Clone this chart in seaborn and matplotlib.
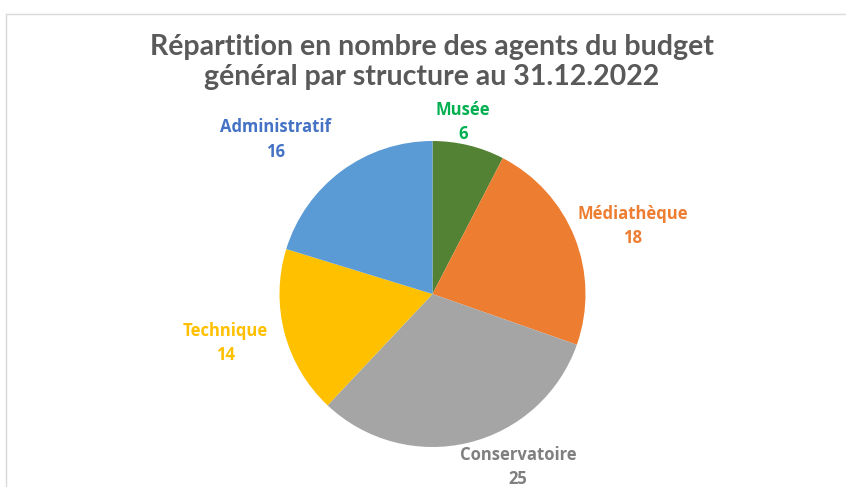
import numpy as np
import matplotlib
matplotlib.use("Agg")
import matplotlib.pyplot as plt
import seaborn as sns
from matplotlib.lines import Line2D

categories = ["Musée", "Médiathèque", "Conservatoire", "Technique", "Administratif"]
values = [6, 18, 25, 14, 16]
colors = ["#548235", "#ED7D31", "#A5A5A5", "#FFC000", "#5B9BD5"]
label_colors = ["#00B050", "#ED7D31", "#7F7F7F", "#FFC000", "#4472C4"]
title = "Répartition en nombre des agents du budget\ngénéral par structure au 31.12.2022"

# styling: label radial distance factors and angle tweaks (deg)
label_dist = [1.14, 1.38, 1.26, 1.39, 1.44]
label_dang = [-3.7, 2.8, -12.6, 1.4, -9]

sns.set_theme(style="white")
plt.rcParams['font.family'] = ['Open Sans', 'DejaVu Sans']

W, H = 846, 487
fig = plt.figure(figsize=(W / 100, H / 100), dpi=100)
ax = fig.add_axes([0, 0, 1, 1])

cx, cy, r = 432.5, H - 294, 153
wedges, _ = ax.pie(values, colors=colors, startangle=90, counterclock=False,
                   center=(cx, cy), radius=r, frame=True,
                   wedgeprops=dict(linewidth=0))
ax.set_xlim(0, W)
ax.set_ylim(0, H)
ax.set_aspect('equal')
ax.axis('off')

total = sum(values)
cum = 0
for i, (cat, v) in enumerate(zip(categories, values)):
    mid = cum + v / 2
    cum += v
    ang = np.deg2rad(mid / total * 360 + label_dang[i])  # clockwise from top
    d = r * label_dist[i]
    x = cx + d * np.sin(ang)
    y = cy + d * np.cos(ang)
    ax.text(x, y, f"{cat}\n{v}", ha='center', va='center', fontsize=12,
            fontweight='bold', color=label_colors[i], linespacing=1.45)

ax.text(432, H - 62, title, ha='center', va='center', fontsize=20.5,
        fontweight='bold', color='#595959', family=['Lato', 'DejaVu Sans'],
        linespacing=1.15)

# chart border (top and left visible)
ax.add_line(Line2D([6, W], [H - 14, H - 14], color='#D9D9D9', lw=1))
ax.add_line(Line2D([6, 6], [H - 14, 0], color='#D9D9D9', lw=1))

fig.savefig("out.png", dpi=100, facecolor='white')
